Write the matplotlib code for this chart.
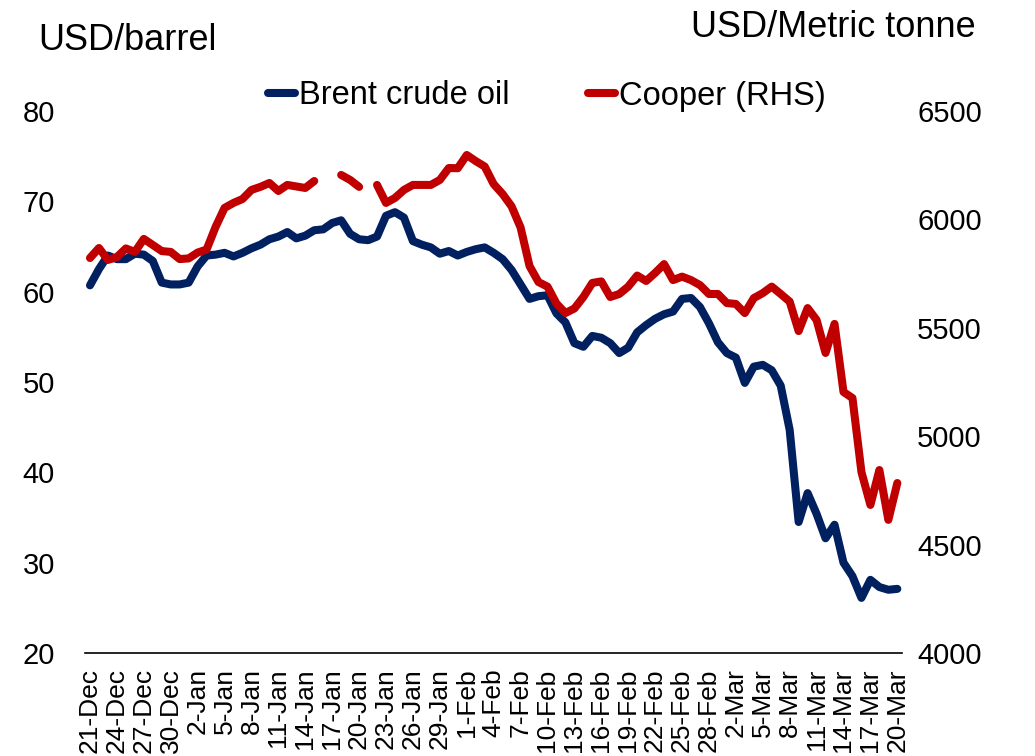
import numpy as np
import pandas as pd
import matplotlib
matplotlib.use("Agg")
import matplotlib.pyplot as plt

plt.rcParams['font.family'] = ['Liberation Sans', 'DejaVu Sans']

nan = np.nan
start_date = "2019-12-21"
end_date = "2020-03-20"

brent = [60.7, 62.5, 64.0, 63.6, 63.6, 64.2, 64.1, 63.4, 61.0, 60.8,
         60.8, 61.0, 62.8, 64.0, 64.1, 64.3, 63.9, 64.3, 64.8, 65.2,
         65.8, 66.1, 66.6, 65.9, 66.2, 66.8, 66.9, 67.6, 67.9, 66.4,
         65.8, 65.7, 66.1, 68.4, 68.8, 68.2, 65.6, 65.2, 64.9, 64.2,
         64.5, 64.0, 64.4, 64.7, 64.9, 64.3, 63.6, 62.4, 60.8, 59.2,
         59.5, 59.6, 57.6, 56.6, 54.3, 53.9, 55.1, 54.9, 54.3, 53.2,
         53.8, 55.5, 56.3, 57.0, 57.5, 57.8, 59.2, 59.3, 58.3, 56.5,
         54.4, 53.2, 52.7, 49.9, 51.7, 51.9, 51.3, 49.6, 44.7, 34.5,
         37.7, 35.4, 32.7, 34.2, 30.0, 28.5, 26.1, 28.1, 27.3, 27.0, 27.1]

copper = [5822, 5868, 5813, 5826, 5866, 5850, 5910, 5882, 5854, 5850,
          5817, 5820, 5847, 5861, 5965, 6053, 6076, 6094, 6136, 6150,
          6168, 6131, 6159, 6152, 6145, 6177, nan, nan, 6205, 6182,
          6150, nan, 6159, 6076, 6099, 6136, 6159, 6159, 6159, 6182,
          6237, 6236, 6297, 6269, 6244, 6163, 6117, 6060, 5963, 5785,
          5711, 5690, 5612, 5568, 5589, 5642, 5707, 5714, 5642, 5656,
          5690, 5741, 5716, 5753, 5794, 5720, 5736, 5720, 5697, 5656,
          5656, 5614, 5610, 5568, 5637, 5660, 5690, 5656, 5621, 5485,
          5591, 5536, 5384, 5518, 5204, 5176, 4835, 4683, 4844, 4614, 4784]

left_ticks = [20, 30, 40, 50, 60, 70, 80]
right_ticks = [4000, 4500, 5000, 5500, 6000, 6500]

dates = pd.date_range(start_date, end_date, freq="D")
tick_dates = dates[::3]
tick_labels = [f"{d.day}-{d.strftime('%b')}" for d in tick_dates]

W, H = 1035, 756
fig = plt.figure(figsize=(W / 100, H / 100), dpi=100)
x0, x1, ytop, ybot = 85.5, 901.8, 111, 653
ax = fig.add_axes([x0 / W, 1 - ybot / H, (x1 - x0) / W, (ybot - ytop) / H])
ax2 = ax.twinx()

blue = '#002060'
red = '#C00000'
lw = 5.8
l1, = ax.plot(dates, brent, color=blue, lw=lw, solid_capstyle='round',
              solid_joinstyle='round', label='Brent crude oil')
l2, = ax2.plot(dates, copper, color=red, lw=lw, solid_capstyle='round',
               solid_joinstyle='round', label='Cooper (RHS)')

half = pd.Timedelta(hours=12)
ax.set_xlim(dates[0] - half, dates[-1] + half)
ax.set_ylim(20, 80)
ax2.set_ylim(4000, 6500)
ax.set_yticks(left_ticks)
ax2.set_yticks(right_ticks)
ax.set_xticks(tick_dates)
ax.set_xticklabels(tick_labels, rotation=90, ha='center', va='top')

for s in ['top', 'left', 'right']:
    ax.spines[s].set_visible(False)
for s in ax2.spines.values():
    s.set_visible(False)
ax.spines['bottom'].set_color('black')
ax.spines['bottom'].set_linewidth(1.2)

ax.tick_params(axis='y', length=0, labelsize=21, pad=22)
ax.tick_params(axis='x', length=0, labelsize=19, pad=11)
ax2.tick_params(axis='y', length=0, labelsize=21, pad=11)

fig.text(38 / W, 1 - 50 / H, 'USD/barrel', fontsize=26, ha='left', va='baseline')
fig.text(976 / W, 1 - 37 / H, 'USD/Metric tonne', fontsize=26, ha='right', va='baseline')

fig.legend([l1, l2], ['Brent crude oil', 'Cooper (RHS)'], loc='center',
           bbox_to_anchor=(546.5 / W, 1 - 96 / H), ncol=2, frameon=False,
           fontsize=23.5, handlelength=0.85, handletextpad=0.1,
           columnspacing=2.4, borderpad=0, borderaxespad=0)

fig.savefig('out.png', dpi=100)
